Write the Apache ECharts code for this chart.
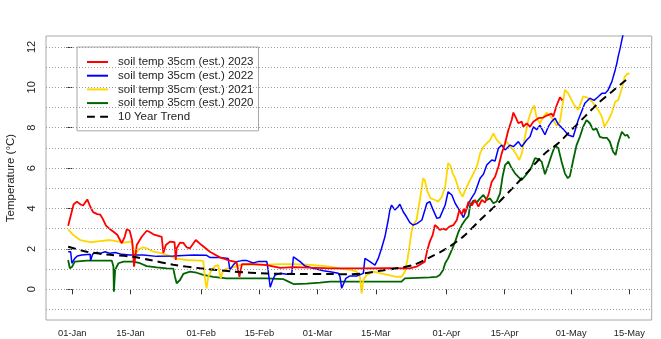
<!DOCTYPE html>
<html>
<head>
<meta charset="utf-8">
<script src="https://cdn.jsdelivr.net/npm/echarts@6/dist/echarts.min.js"></script>
<style>
html,body{margin:0;padding:0;background:#fff;}
#chart{width:661px;height:339px;}
</style>
</head>
<body>
<div id="chart"></div>
<script>
// x values are days since 01-Jan (0 = 01-Jan)
const tickDays = [0, 14, 31, 45, 59, 73, 90, 104, 120, 134];
const tickLabels = ['01-Jan','15-Jan','01-Feb','15-Feb','01-Mar','15-Mar','01-Apr','15-Apr','01-May','15-May'];
const yTicks = [0, 2, 4, 6, 8, 10, 12];
const yGrid = [-1, 0, 1, 2, 3, 4, 5, 6, 7, 8, 9, 10, 11, 12];

const seriesNames = ['soil temp 35cm (est.) 2023','soil temp 35cm (est.) 2022','soil temp 35cm (est.) 2021','soil temp 35cm (est.) 2020','10 Year Trend'];

const temp2023 = [[-1.0,3.15],[0.3,4.2],[1.1,4.34],[2.0,4.2],[2.6,4.15],[3.6,4.45],[4.3,4.1],[5.0,3.82],[6.0,3.72],[6.7,3.7],[7.3,3.5],[8.1,3.15],[9.1,2.97],[9.9,2.85],[10.8,2.7],[11.9,2.28],[12.6,2.6],[13.1,2.97],[13.8,2.9],[14.4,2.4],[14.85,1.12],[15.5,2.19],[16.7,2.6],[17.9,2.9],[18.5,2.85],[19.5,2.72],[20.7,2.65],[21.5,2.6],[21.9,1.8],[22.5,2.19],[23.5,2.36],[24.6,2.33],[24.9,1.45],[25.1,2.03],[25.9,2.31],[26.7,2.3],[27.5,2.08],[28.3,2.03],[29.7,2.44],[31.1,2.19],[33.1,1.86],[35.5,1.58],[37.9,1.42],[39.5,1.35],[40.2,0.62],[40.8,1.25],[43.5,1.25],[46.8,1.2],[50.0,1.06],[53.2,1.1],[57.0,1.07],[62.0,1.04],[70.0,1.04],[76.0,1.05],[81.2,1.04],[82.8,1.12],[84.8,1.37],[85.4,1.95],[86.0,2.36],[86.7,2.69],[87.2,3.18],[87.7,3.1],[88.4,2.94],[89.2,3.0],[89.9,2.94],[90.7,3.1],[91.7,3.18],[92.5,3.43],[93.1,3.93],[93.7,3.7],[94.2,4.0],[94.5,3.76],[95.3,4.34],[96.1,4.15],[96.9,4.42],[97.7,4.09],[98.5,4.42],[99.3,4.3],[100.1,4.67],[100.9,5.33],[101.7,5.57],[102.5,6.07],[103.3,6.73],[104.1,7.23],[104.9,7.89],[105.7,8.38],[106.1,8.75],[106.7,8.5],[107.3,8.22],[108.1,8.3],[108.5,8.05],[109.3,8.22],[110.1,8.05],[110.9,8.3],[112.1,8.47],[113.3,8.5],[114.1,8.6],[115.3,8.7],[115.7,8.55],[116.5,9.1],[117.3,9.5],[117.9,9.35]];

const temp2022 = [[-1.0,1.86],[-0.4,1.86],[-0.1,1.29],[0.6,1.53],[1.2,1.65],[2.3,1.70],[4.3,1.73],[4.4,1.42],[4.9,1.75],[5.9,1.83],[6.7,1.78],[7.9,1.86],[9.1,1.78],[10.3,1.82],[11.9,1.73],[13.8,1.70],[17.1,1.70],[20.3,1.63],[24.3,1.65],[29.1,1.70],[32.3,1.68],[33.1,1.58],[35.5,1.58],[37.5,1.53],[37.9,0.96],[38.7,1.2],[39.5,1.37],[40.8,1.42],[42.0,1.42],[43.5,1.3],[44.7,1.37],[46.8,1.37],[47.1,0.96],[47.6,0.1],[48.2,0.46],[48.8,0.71],[50.0,0.79],[51.6,0.75],[52.8,0.79],[53.2,1.61],[53.6,1.70],[54.8,1.37],[56.0,1.15],[58.0,1.04],[60.4,0.92],[62.0,0.87],[64.0,0.79],[64.4,0.62],[64.8,0.05],[65.1,0.1],[65.8,0.54],[66.8,0.66],[68.4,0.66],[70.0,0.79],[70.4,1.53],[70.8,1.61],[71.6,1.37],[72.8,1.2],[73.6,1.53],[74.4,2.03],[75.2,2.6],[76.0,3.43],[76.4,3.93],[76.8,4.17],[77.6,3.93],[78.4,4.09],[78.8,4.21],[79.6,3.84],[80.4,3.59],[81.2,3.30],[82.0,3.18],[82.9,3.25],[84.1,3.43],[85.3,4.26],[86.0,4.34],[86.8,3.93],[87.7,3.51],[88.4,3.55],[89.7,4.17],[90.4,4.83],[91.3,4.67],[92.1,4.26],[93.3,3.85],[94.1,3.55],[94.9,4.0],[95.7,4.4],[96.9,4.8],[98.1,5.5],[98.9,5.7],[99.7,6.15],[100.9,6.4],[101.7,6.35],[102.5,6.98],[103.3,7.14],[104.1,6.9],[105.3,7.14],[106.1,7.06],[107.3,7.31],[108.1,7.06],[109.3,7.39],[110.1,7.55],[110.9,8.05],[111.7,7.9],[112.5,8.13],[113.7,7.65],[114.5,8.05],[115.3,8.3],[116.1,8.47],[116.8,8.2],[118.1,7.93],[119.3,7.64],[120.5,7.55],[120.9,7.47],[121.7,8.38],[122.5,8.79],[123.3,9.21],[124.5,9.46],[125.5,9.35],[126.5,9.53],[127.4,9.7],[128.2,9.7],[128.9,9.87],[129.8,10.28],[130.6,10.86],[131.0,11.19],[131.3,11.51],[131.7,11.85],[132.2,12.34],[132.7,12.8]];

const temp2021 = [[-1.0,2.97],[0.2,2.69],[1.9,2.44],[4.3,2.33],[6.7,2.39],[9.1,2.44],[10.5,2.38],[12.3,2.31],[14.3,2.36],[14.6,2.3],[15.1,1.70],[15.9,1.98],[17.1,2.08],[17.9,2.03],[19.5,1.86],[21.1,1.80],[22.7,1.70],[25.1,1.52],[27.5,1.45],[30.7,1.42],[31.5,1.40],[31.9,0.54],[32.3,0.05],[32.7,0.62],[33.5,0.95],[34.3,1.15],[35.1,1.2],[35.7,0.54],[36.3,0.95],[37.5,1.04],[38.7,1.1],[40.3,1.2],[43.5,1.22],[46.8,1.22],[50.0,1.25],[53.2,1.25],[56.4,1.22],[59.6,1.17],[62.0,1.12],[64.4,1.02],[66.8,0.96],[68.4,0.87],[69.2,0.62],[69.6,-0.2],[70.0,0.46],[70.8,0.71],[72.4,0.87],[74.8,0.76],[78.0,0.62],[79.2,0.62],[80.0,0.87],[80.6,1.45],[81.1,2.11],[81.6,2.85],[82.0,3.18],[82.8,3.43],[83.6,4.42],[84.4,5.5],[84.8,5.4],[85.4,4.85],[86.2,4.5],[87.3,4.42],[88.0,4.34],[88.9,4.58],[89.7,5.08],[90.4,6.24],[90.9,6.15],[91.5,5.74],[92.1,5.5],[92.9,5.0],[93.4,4.75],[93.9,4.58],[94.5,4.9],[95.3,5.25],[96.5,5.74],[97.3,6.07],[98.1,6.73],[98.9,7.06],[99.7,7.23],[100.5,7.39],[101.3,7.72],[102.1,7.4],[102.9,7.23],[103.7,7.05],[104.5,7.31],[105.3,7.05],[106.1,6.9],[106.9,6.65],[107.5,6.4],[108.1,6.7],[108.9,7.55],[109.7,8.38],[110.5,8.88],[111.1,9.1],[111.7,8.5],[112.5,8.2],[113.2,8.5],[114.1,8.75],[115.3,8.5],[116.5,8.1],[117.3,8.3],[118.5,9.87],[119.3,9.7],[120.5,9.2],[121.7,8.88],[122.9,9.55],[123.8,9.5],[125.0,9.3],[126.5,8.88],[127.4,8.55],[128.0,8.05],[128.9,8.35],[129.8,8.75],[130.6,9.29],[131.3,9.35],[132.2,9.95],[132.9,10.53],[133.7,10.69],[134.0,10.65]];

const temp2020 = [[-1.0,1.45],[-0.6,1.04],[-0.1,1.1],[0.6,1.37],[3.5,1.42],[6.7,1.42],[9.5,1.42],[9.9,1.12],[10.0,-0.12],[10.3,0.96],[11.1,1.29],[12.3,1.37],[14.7,1.37],[16.3,1.29],[17.9,1.15],[20.3,1.09],[22.7,1.04],[24.3,1.02],[24.7,0.62],[25.1,0.3],[25.9,0.46],[26.7,0.76],[28.3,0.87],[29.9,0.82],[31.5,0.71],[33.9,0.62],[37.1,0.54],[46.8,0.54],[50.8,0.5],[52.0,0.38],[53.2,0.26],[56.4,0.28],[59.6,0.33],[62.0,0.38],[79.2,0.38],[80.0,0.54],[86.0,0.59],[87.7,0.62],[88.4,0.71],[89.2,0.96],[89.7,1.29],[90.4,1.53],[91.3,1.95],[92.1,2.36],[92.9,2.85],[93.7,3.18],[94.5,3.43],[95.3,3.62],[95.7,4.15],[96.5,4.4],[97.3,4.3],[98.1,4.5],[98.9,4.67],[99.7,4.42],[100.5,4.5],[101.3,4.26],[102.1,4.35],[102.9,4.75],[103.5,5.57],[104.1,6.15],[104.9,6.32],[105.7,5.99],[106.5,5.74],[107.3,5.57],[108.1,5.41],[108.9,5.6],[109.7,5.82],[110.5,6.07],[111.3,6.49],[112.1,6.45],[112.9,6.32],[113.7,5.7],[114.5,6.15],[115.3,6.65],[116.1,7.1],[116.9,7.0],[117.7,6.32],[118.5,5.74],[119.2,5.5],[119.7,5.6],[120.5,6.4],[121.3,7.14],[122.1,7.55],[122.9,8.05],[123.7,8.38],[124.5,8.22],[125.3,7.89],[126.1,7.95],[126.9,7.55],[127.7,7.5],[128.6,7.5],[129.3,7.31],[130.1,6.81],[130.7,6.65],[131.3,7.23],[132.2,7.8],[133.0,7.6],[133.5,7.65],[134.0,7.47]];

const trend10yr = [[-1.0,2.11],[3.5,1.86],[8.3,1.72],[14.7,1.61],[18.7,1.45],[24.3,1.22],[30.7,1.04],[38.7,0.88],[46.8,0.78],[54.8,0.76],[62.0,0.76],[66.0,0.74],[70.0,0.78],[74.0,0.92],[78.0,1.04],[82.0,1.2],[86.0,1.58],[90.1,2.03],[94.1,2.62],[98.1,3.43],[102.1,4.2],[106.1,5.05],[109.3,5.75],[113.7,6.73],[116.9,7.23],[120.1,7.89],[123.3,8.55],[126.5,9.21],[129.8,9.78],[133.7,10.45]];

const FONT = '"Liberation Sans", Arial, sans-serif';
const chart = echarts.init(document.getElementById('chart'), null, {renderer: 'canvas'});

function lineSeries(name, data, color, width, z, extra) {
  return Object.assign({
    name: name, type: 'line', data: data, symbol: 'none', showSymbol: false,
    lineStyle: {color: color, width: width}, itemStyle: {color: color},
    z: z, animation: false, clip: true
  }, extra || {});
}

const solidIcon = 'path://M0,0L21,0L21,2L0,2Z';
const dashIcon = 'path://M0,0L7.5,0L7.5,2L0,2ZM12.5,0L20,0L20,2L12.5,2Z';

const option = {
  animation: false,
  backgroundColor: '#fff',
  grid: {left: 46, top: 36, right: 9.3, bottom: 19, show: true, borderColor: '#a8a8a8', borderWidth: 1,
    containLabel: false, outerBoundsMode: 'none'},
  xAxis: {
    type: 'value', min: -6.33, max: 139.38,
    axisLine: {show: false},
    splitLine: {show: false},
    axisTick: {show: true, customValues: tickDays, length: 5, lineStyle: {color: '#333'}},
    axisLabel: {show: true, customValues: tickDays, margin: 9, fontSize: 9.3, fontFamily: FONT, color: '#222',
      formatter: function (v) { const i = tickDays.indexOf(v); return i >= 0 ? tickLabels[i] : ''; }}
  },
  yAxis: {
    type: 'value', min: -1.52, max: 12.54,
    name: 'Temperature (°C)', nameLocation: 'middle', nameRotate: 90, nameGap: 29,
    nameTextStyle: {fontSize: 11.5, fontFamily: FONT, color: '#222'},
    axisLine: {show: false},
    splitLine: {show: false},
    axisTick: {show: true, customValues: yTicks, length: 6, lineStyle: {color: '#333'}},
    axisLabel: {show: true, customValues: yTicks, rotate: 90, margin: 9, fontSize: 11, fontFamily: FONT, color: '#222'}
  },
  legend: {
    data: [
      {name: seriesNames[0], icon: solidIcon, itemStyle: {color: '#ff0000'}},
      {name: seriesNames[1], icon: solidIcon, itemStyle: {color: '#0000ff'}},
      {name: seriesNames[2], icon: solidIcon, itemStyle: {color: '#ffd700'}},
      {name: seriesNames[3], icon: solidIcon, itemStyle: {color: '#006400'}},
      {name: seriesNames[4], icon: dashIcon, itemStyle: {color: '#000000'}}
    ],
    orient: 'vertical', left: 77, top: 47,
    backgroundColor: '#fff', borderColor: '#a8a8a8', borderWidth: 1,
    padding: [9, 5, 8, 10],
    itemWidth: 21, itemHeight: 2, itemGap: 1.7,
    symbolKeepAspect: false,
    itemStyle: {borderWidth: 0},
    lineStyle: {width: 0},
    textStyle: {fontSize: 11.5, fontFamily: FONT, color: '#222', padding: [0, 0, 0, 5]},
    selectedMode: false
  },
  series: [
    {
      name: 'grid', type: 'line', data: [], z: 1, silent: true,
      markLine: {silent: true, symbol: 'none', label: {show: false}, animation: false,
        lineStyle: {color: '#9a9a9a', type: [1, 2], width: 1},
        data: yGrid.map(function (v) { return {yAxis: v}; })}
    },
    lineSeries(seriesNames[3], temp2020, '#006400', 1.8, 2),
    lineSeries(seriesNames[2], temp2021, '#ffd700', 1.8, 2),
    lineSeries(seriesNames[1], temp2022, '#0000ff', 1.5, 2),
    lineSeries(seriesNames[0], temp2023, '#ff0000', 1.8, 2),
    lineSeries(seriesNames[4], trend10yr, '#000000', 2, 3, {smooth: 0.3, lineStyle: {color: '#000', width: 2, type: [8, 5]}})
  ]
};
chart.setOption(option);
</script>
</body>
</html>
